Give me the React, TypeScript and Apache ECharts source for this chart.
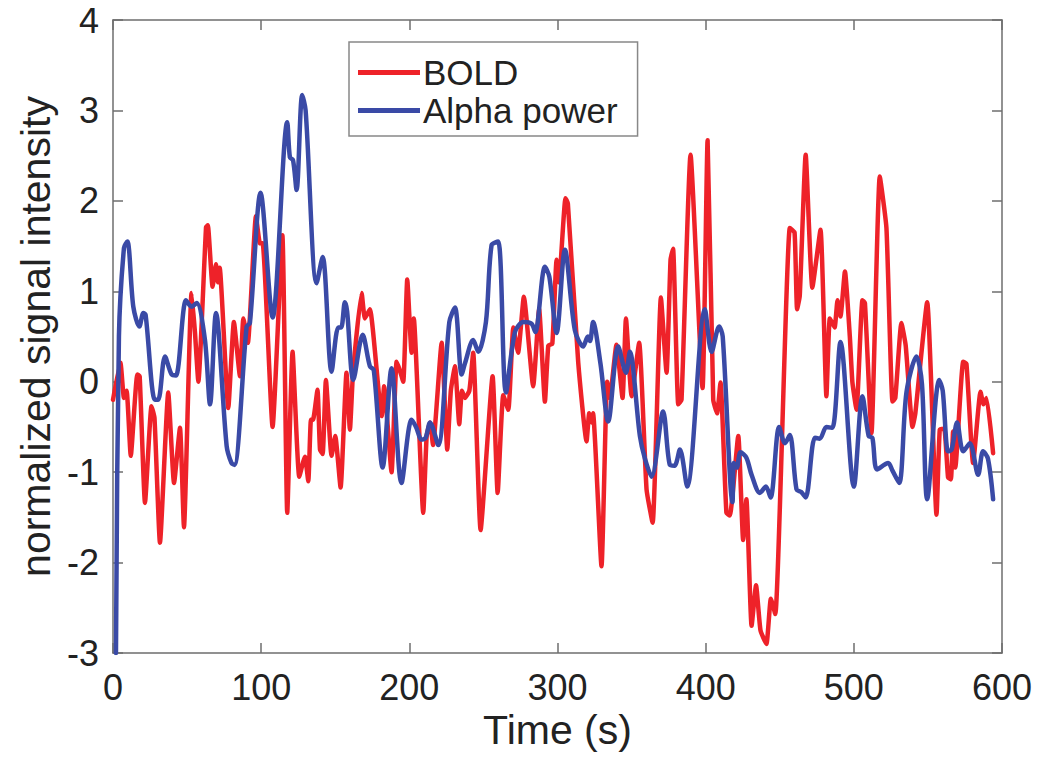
import React, { useEffect, useRef } from "react";
import * as echarts from "echarts";

const xTicks = [0, 100, 200, 300, 400, 500, 600];
const yTicks = [-3, -2, -1, 0, 1, 2, 3, 4];

const boldT = [0, 5, 7.4, 9.2, 12, 16.4, 18, 21.6, 26, 28, 31.7, 37.3, 41.2, 45.2, 47.9, 53, 55.3, 57.6, 62.8, 64, 67.2, 69.5, 70.8, 72, 77.8, 81.6, 85.7, 88, 91, 96.5, 99.2, 101, 107.7, 114.3, 117.6, 121.2, 125.7, 129.5, 131.8, 133.6, 135, 138, 139.7, 141.5, 143.7, 147.5, 150, 153.6, 157.6, 159.9, 162, 167.8, 170, 173.4, 181.3, 183, 188, 191.4, 193.5, 195.9, 198.6, 201.5, 203, 209.4, 211.7, 214, 216, 221.8, 225.6, 228, 230.8, 233.7, 235.5, 237.5, 240.5, 243.1, 248.1, 256.2, 259.6, 263.4, 266.8, 270.2, 273.4, 277.3, 283.6, 287.6, 291.5, 293.8, 296.5, 299.4, 301, 305.4, 307, 314, 319.6, 321.4, 323, 324, 329.7, 333.5, 335.3, 339.8, 343.9, 346.2, 350, 355.1, 360.1, 364.2, 369.8, 373.6, 376.3, 378, 381.5, 383.7, 389.8, 397.9, 401.3, 405.1, 407.7, 410, 414, 416.3, 422, 425.3, 427.5, 431, 434, 437, 441, 444, 447, 456.8, 460, 461.7, 463.5, 467.5, 472, 477.5, 481.5, 483.8, 487, 489, 491, 494, 497.3, 499, 501.8, 505.8, 507.5, 511.9, 517.5, 522, 526.1, 528, 532.1, 535, 539.6, 541.5, 549.5, 555.8, 558, 561, 563.6, 565.5, 567, 568.5, 573.8, 576, 580.5, 585.5, 587.5, 589.6, 594];
const boldV = [-0.2, 0.21, -0.18, -0.1, -0.82, 0.08, 0.06, -1.34, -0.27, -0.4, -1.78, -0.12, -1.12, -0.51, -1.61, 0.98, 0.55, 0.0, 1.71, 1.73, 1.05, 1.3, 1.1, 1.26, -0.29, 0.66, 0.06, 0.7, 0.43, 1.83, 1.53, 1.53, -0.5, 1.62, -1.45, 0.33, -1.05, -0.83, -1.1, -0.42, -0.42, -0.09, -0.75, -0.8, 0.02, -0.82, -0.6, -1.17, 0.1, -0.53, 0.1, 0.98, 0.7, 0.8, -0.38, -0.05, -1.0, 0.22, 0.13, 0, 1.13, 0.32, 0.7, -1.45, -0.6, -0.45, -0.7, 0.43, -0.75, -0.1, 0.17, -0.47, -0.1, -0.18, -0.1, 0.32, -1.64, 0.06, -1.23, -0.15, -0.31, 0.6, 0.32, 0.94, -0.05, 0.8, -0.22, 0.4, 0.42, 1.35, 1.1, 2.03, 1.97, 0.21, -0.66, -0.35, -0.45, -0.35, -2.04, 0, -0.18, 0.41, -0.18, 0.7, -0.16, 0.43, -1.19, -1.56, 0.93, 0.1, 1.35, 1.47, -0.25, -0.2, 2.51, -0.07, 2.67, -0.2, -0.35, -0.01, -1.45, -1.48, -0.6, -1.75, -1.3, -2.7, -2.25, -2.75, -2.9, -2.4, -2.57, 1.7, 1.65, 0.8, 0.95, 2.51, 1.04, 1.68, -0.16, 0.7, 0.6, 0.9, 0.72, 1.22, 0.5, 0.0, -0.31, 0.9, 0.87, -0.57, 2.27, 1.7, -0.22, -0.18, 0.65, 0.4, -0.5, -0.35, 0.88, -1.47, -0.53, -0.52, -1.06, -1.08, -0.55, -0.95, 0.22, 0.2, -0.9, -0.11, -0.25, -0.18, -0.79];

const alphaT = [2, 4, 7.4, 9.7, 13.7, 17.8, 20.5, 22, 28.3, 30.5, 35.1, 39.6, 42.5, 49.3, 53, 56.5, 62, 65.5, 69.5, 76.7, 80, 82, 90.2, 92.4, 99.6, 107.7, 117.6, 119.4, 121.5, 123.9, 127.7, 130, 137.4, 141.5, 147.5, 152, 154, 156.5, 158, 162.2, 168.5, 173.4, 176, 182, 188, 194.7, 201.5, 204.5, 208.3, 211, 214, 219.5, 227, 230.8, 235.3, 237.5, 243.1, 246.5, 251.7, 255.5, 260, 265.2, 271.3, 277, 282.5, 285, 291.5, 294.5, 299.4, 305, 311.7, 317.3, 320.5, 322, 324, 329, 334.2, 341, 346.2, 348.8, 355.6, 359, 363.5, 371.3, 375.8, 379, 382.6, 387.5, 399.5, 404, 409.1, 411.5, 418.1, 419, 421, 423.5, 427.5, 431, 436.6, 440.6, 443.8, 449.6, 453.5, 456.8, 461.3, 464.5, 467.5, 473.7, 477, 481.5, 485.5, 491, 500, 505.8, 510, 512.5, 515.7, 523.2, 526, 530.6, 535.5, 542.3, 546, 549.5, 557.6, 560, 563.6, 566, 569.7, 573.8, 578.3, 583.9, 587.2, 590.5, 594];
const alphaV = [-3, 0.5, 1.48, 1.55, 0.83, 0.61, 0.76, 0.74, -0.2, -0.2, 0.28, 0.08, 0.07, 0.9, 0.83, 0.87, 0.47, -0.25, 0.76, -0.71, -0.9, -0.92, 0.61, 0.65, 2.09, 0.71, 2.87, 2.48, 2.45, 2.12, 3.17, 3.0, 1.09, 1.38, 0.11, 0.6, 0.6, 0.88, 0.78, 0.02, 0.52, 0.17, 0.13, -0.95, 0.15, -1.12, -0.42, -0.5, -0.64, -0.62, -0.45, -0.7, 0.66, 0.82, 0.08, 0.2, 0.46, 0.33, 0.66, 1.51, 1.55, -0.12, 0.55, 0.66, 0.64, 0.55, 1.27, 1.16, 0.54, 1.46, 0.57, 0.39, 0.5, 0.45, 0.66, 0.2, -0.44, 0.39, 0.1, 0.33, -0.6, -0.85, -1.05, -0.33, -0.92, -0.93, -0.75, -1.16, 0.8, 0.33, 0.61, 0.5, -1.33, -0.9, -0.95, -0.78, -0.84, -1.03, -1.23, -1.16, -1.28, -0.5, -0.68, -0.59, -1.19, -1.22, -1.28, -0.62, -0.63, -0.5, -0.51, 0.44, -1.16, -0.16, -0.6, -0.62, -0.97, -0.9, -0.98, -1.12, -0.12, 0.28, -0.03, -1.3, 0.02, -0.1, -0.77, -0.75, -0.45, -0.77, -0.68, -1.03, -0.77, -0.85, -1.3];

const FONT = "'Liberation Sans', Arial, Helvetica, sans-serif";
const FRAME = "#6e6e6e";
const TEXT = "#222222";
const RED = "#ee2229";
const BLUE = "#3a4aa6";

export default function App() {
  const ref = useRef<HTMLDivElement>(null);
  useEffect(() => {
    if (!ref.current) return;
    const chart = echarts.init(ref.current, null, { renderer: "svg" });
    const bold = boldT.map((t, i) => [t, boldV[i]]);
    const alpha = alphaT.map((t, i) => [t, alphaV[i]]);
    const axisLine = { show: true, onZero: false, lineStyle: { color: FRAME, width: 1.5 } };
    const axisTick = { show: true, inside: true, length: 10, lineStyle: { color: FRAME, width: 1.5 } };
    const baseX = {
      type: "value",
      min: xTicks[0],
      max: xTicks[xTicks.length - 1],
      interval: 100,
      splitLine: { show: false },
      axisLine,
      axisTick,
    };
    const baseY = {
      type: "value",
      min: yTicks[0],
      max: yTicks[yTicks.length - 1],
      interval: 1,
      splitLine: { show: false },
      axisLine,
      axisTick,
    };
    chart.setOption({
      animation: false,
      backgroundColor: "#ffffff",
      textStyle: { fontFamily: FONT },
      grid: { left: 113, right: 41, top: 20, bottom: 116, containLabel: false },
      legend: {
        orient: "vertical",
        left: 349,
        top: 42,
        backgroundColor: "#ffffff",
        borderColor: "#888888",
        borderWidth: 1.5,
        borderRadius: 0,
        padding: [13, 20, 8, 9],
        itemGap: 3,
        itemWidth: 62,
        itemHeight: 5,
        icon: "rect",
        textStyle: { fontFamily: FONT, fontSize: 35, color: TEXT, padding: [0, 0, 0, -2] },
        data: [
          { name: "BOLD", icon: "rect", itemStyle: { color: RED } },
          { name: "Alpha power", icon: "rect", itemStyle: { color: BLUE } },
        ],
      },
      xAxis: [
        {
          ...baseX,
          position: "bottom",
          name: "Time (s)",
          nameLocation: "middle",
          nameGap: 52,
          nameTextStyle: { fontFamily: FONT, fontSize: 41, color: TEXT },
          axisLabel: { show: true, margin: 16, fontFamily: FONT, fontSize: 36, color: TEXT },
        },
        { ...baseX, position: "top", axisLabel: { show: false } },
      ],
      yAxis: [
        {
          ...baseY,
          position: "left",
          name: "normalized signal intensity",
          nameLocation: "middle",
          nameGap: 52,
          nameTextStyle: { fontFamily: FONT, fontSize: 41, color: TEXT },
          axisLabel: { show: true, margin: 14, fontFamily: FONT, fontSize: 36, color: TEXT },
        },
        { ...baseY, position: "right", axisLabel: { show: false } },
      ],
      series: [
        {
          name: "BOLD",
          type: "line",
          data: bold,
          symbol: "none",
          clip: true,
          smooth: 0.15,
          itemStyle: { color: RED },
          lineStyle: { color: RED, width: 4.5, cap: "round", join: "round" },
          z: 2,
        },
        {
          name: "Alpha power",
          type: "line",
          data: alpha,
          symbol: "none",
          clip: true,
          smooth: 0.3,
          itemStyle: { color: BLUE },
          lineStyle: { color: BLUE, width: 4.5, cap: "round", join: "round" },
          z: 3,
        },
      ],
    });
    return () => chart.dispose();
  }, []);
  return <div ref={ref} style={{ width: 1043, height: 769, margin: -8 }} />;
}
